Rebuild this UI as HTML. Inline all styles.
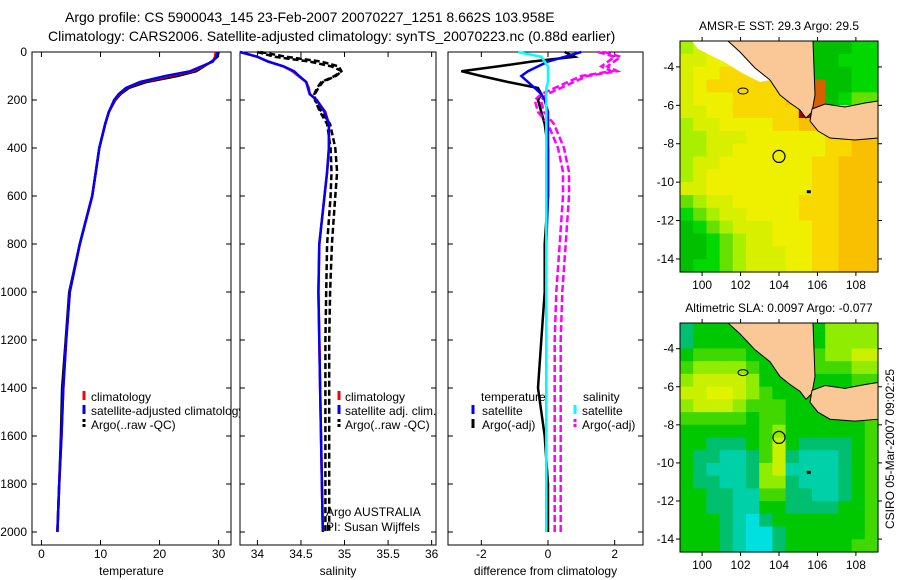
<!DOCTYPE html>
<html><head><meta charset="utf-8">
<style>
html,body{margin:0;padding:0;background:#fff;}
svg{display:block;font-family:"Liberation Sans",sans-serif;}
text{fill:#000;}
</style></head>
<body>
<svg id="fig" width="900" height="580" viewBox="0 0 900 580">
<text x="65" y="22" font-size="14">Argo profile: CS 5900043_145 23-Feb-2007 20070227_1251 8.662S 103.958E</text>
<text x="48" y="41" font-size="14">Climatology: CARS2006. Satellite-adjusted climatology: synTS_20070223.nc (0.88d earlier)</text>
<g id="g"></g>
</svg>
<script>
// ---- profile data ----
const depths   = [0,20,40,60,80,100,125,150,175,200,250,300,400,500,600,800,1000,1200,1400,1600,1800,2000];
const tempClim = [29.5,29.4,29.0,27.3,25.6,21.7,17.0,14.4,13.2,12.4,11.4,10.8,9.8,9.2,8.6,6.5,4.8,4.2,3.7,3.4,3.0,2.7];
const tempSat  = [29.8,29.6,29.0,27.1,25.2,21.0,16.7,14.3,13.1,12.3,11.4,10.8,9.8,9.2,8.6,6.5,4.8,4.2,3.7,3.4,3.0,2.7];
const tempArgo = [30.0,29.8,28.8,27.5,26.2,23.0,17.8,14.8,13.4,12.5,11.4,10.8,9.8,9.2,8.6,6.5,4.7,4.1,3.5,3.3,3.0,2.7];
const salClim  = [33.8,34.0,34.13,34.3,34.4,34.47,34.56,34.59,34.6,34.68,34.78,34.82,34.82,34.8,34.77,34.71,34.7,34.71,34.72,34.73,34.74,34.75];
const salSat   = [33.8,34.0,34.12,34.3,34.42,34.48,34.56,34.58,34.6,34.68,34.77,34.82,34.82,34.8,34.77,34.71,34.7,34.71,34.72,34.73,34.74,34.75];
const salArgo  = [34.0,34.2,34.6,34.85,34.97,34.9,34.75,34.7,34.66,34.66,34.72,34.8,34.84,34.85,34.84,34.8,34.79,34.78,34.78,34.78,34.78,34.78];
const salArgo2 = [34.0,34.3,34.7,34.9,34.93,34.85,34.7,34.65,34.62,34.63,34.7,34.8,34.86,34.88,34.86,34.82,34.8,34.79,34.79,34.79,34.79,34.79];
const dTempSat = [1.0,0.5,0.0,-0.3,-0.6,-0.8,-0.6,-0.4,-0.2,-0.1,0,0,0,0,0,-0.05,-0.05,-0.05,-0.05,-0.05,-0.05,-0.05];
const dTempArgo= [0.5,0.8,-0.5,-1.5,-2.6,-2.0,-1.2,-0.3,-0.2,-0.3,-0.2,-0.1,0,0,0,-0.1,-0.1,-0.2,-0.3,-0.1,0,0];
const dSalSat  = [-0.9,-0.2,-0.1,0,0,0,0,-0.05,-0.05,-0.05,-0.05,-0.05,-0.05,-0.05,-0.05,-0.05,-0.05,-0.05,-0.05,-0.05,-0.05,-0.05];
const dSalArgo = [1.5,2.0,1.8,1.6,1.9,1.0,0.6,0.2,-0.2,-0.4,-0.3,0,0.3,0.45,0.45,0.35,0.25,0.2,0.2,0.2,0.2,0.2];
const depthTicks = [0,200,400,600,800,1000,1200,1400,1600,1800,2000];
const tempTicks = [0,10,20,30];
const salTicks = [34,34.5,35,35.5,36];
const diffTicks = [-2,0,2];
// ---- map data (colour level per cell, rows north->south) ----
const sstGrid = ["344444333300011","445555533300111","455666655500011","456666666780011","455566667880122","445566666985555","344555566777777","334445555556677","334455555556677","344555555566777","345555555566777","445555555566777","234455555666777","123445555666777","012344455566777","001234455566777","001234445566777","011234445566777"];
const slaGrid = ["233333333335555","233333333335555","344443333345566","455554333344455","566665333333344","667765433333334","566654443333334","444443443333334","333333453333334","332223463222234","322112462111234","321112561111234","322112552111234","332211442211234","332211332222334","333210233333334","333210023333334","333210023333344"];
const lonTicks = [100,102,104,106,108];
const latTicks = [-4,-6,-8,-10,-12,-14];

const NS="http://www.w3.org/2000/svg";
const G=document.getElementById('g');
function mk(tag,attrs,parent){const e=document.createElementNS(NS,tag);for(const k in attrs)e.setAttribute(k,attrs[k]);(parent||G).appendChild(e);return e;}
const yTop=52, yPerM=0.24;
function yD(d){return yTop+d*yPerM;}
const BOT=545;

function panel(x0,x1,xmin,xmax,ticks,label,name,showY){
  const sx=v=>x0+(v-xmin)/(xmax-xmin)*(x1-x0);
  const b=mk('rect',{x:x0,y:yTop,width:x1-x0,height:BOT-yTop,fill:'#fff',stroke:'#000','stroke-width':1});
  
  
  ticks.forEach(t=>{const x=sx(t);
    mk('line',{x1:x,x2:x,y1:yTop,y2:yTop+5,stroke:'#000'});
    mk('line',{x1:x,x2:x,y1:BOT,y2:BOT-5,stroke:'#000'});
    const tx=mk('text',{x:x,y:558,'font-size':12,'text-anchor':'middle'});tx.textContent=String(t);
    
    
  });
  depthTicks.forEach(d=>{const y=yD(d);
    mk('line',{x1:x0,x2:x0+5,y1:y,y2:y,stroke:'#000'});
    mk('line',{x1:x1,x2:x1-5,y1:y,y2:y,stroke:'#000'});
    if(showY){const t=mk('text',{x:x0-5,y:y+4,'font-size':12,'text-anchor':'end'});t.textContent=String(d);
      
      }
  });
  const l=mk('text',{x:(x0+x1)/2,y:575,'font-size':12,'text-anchor':'middle'});l.textContent=label;
  
  
  return sx;
}
function line(sx,vals,color,name,dash,off){
  const pts=vals.map((v,i)=>(sx(v)+(off||0)).toFixed(1)+','+yD(depths[i]).toFixed(1)).join(' ');
  const p=mk('polyline',{points:pts,fill:'none',stroke:color,'stroke-width':2.5});
  if(dash)p.setAttribute('stroke-dasharray',dash);
  
  
}
function txt(x,y,s,name,size,anchor){const t=mk('text',{x:x,y:y,'font-size':size||12});if(anchor)t.setAttribute('text-anchor',anchor);t.textContent=s;
  
  return t;}
function mark(x,y,c,name,dash){const l=mk('line',{x1:x,x2:x,y1:y-10,y2:y-1,stroke:c,'stroke-width':3});if(dash)l.setAttribute('stroke-dasharray',dash);
  
  }

// panel 1 temperature
const sxT=panel(32,231,-1.6,32.1,tempTicks,'temperature','temperature-panel',true);
line(sxT,tempArgo,'#000','temperature-argo-line');
line(sxT,tempClim,'#f00','temperature-climatology-line');
line(sxT,tempSat,'#00f','temperature-satellite-line');
mark(84,401,'#f00','legend-climatology-marker');txt(91,401,'climatology','legend-climatology');
mark(84,415,'#00f','legend-satellite-marker');txt(91,415,'satellite-adjusted climatology','legend-satellite');
mark(84,429,'#000','legend-argo-marker','3,2');txt(91,429,'Argo(..raw -QC)','legend-argo');

// panel 2 salinity
const sxS=panel(240,436,33.8,36.05,salTicks,'salinity','salinity-panel',false);
line(sxS,salArgo,'#000','salinity-argo-raw-line','6,3');
line(sxS,salArgo2,'#000','salinity-argo-qc-line','6,3',3);
line(sxS,salClim,'#f00','salinity-climatology-line');
line(sxS,salSat,'#00f','salinity-satellite-line');
mark(339,401,'#f00','legend2-climatology-marker');txt(345,401,'climatology','legend2-climatology');
mark(339,415,'#00f','legend2-satellite-marker');txt(345,415,'satellite adj. clim.','legend2-satellite');
mark(339,429,'#000','legend2-argo-marker','3,2');txt(345,429,'Argo(..raw -QC)','legend2-argo');
txt(326,516,'Argo AUSTRALIA','float-agency-label');
txt(326,531,'PI: Susan Wijffels','pi-label');

// panel 3 differences
const sxD=panel(448,643,-3.0,2.85,diffTicks,'difference from climatology','difference-panel',false);
line(sxD,dTempArgo,'#000','diff-temp-argo-line');
line(sxD,dSalArgo,'#f0f','diff-sal-argo-line','7,3');
line(sxD,dSalArgo,'#f0f','diff-sal-argo-line-2','7,3',6);
line(sxD,dTempSat,'#00f','diff-temp-satellite-line');
line(sxD,dSalSat,'#0ff','diff-sal-satellite-line');
txt(481,401,'temperature','legend3-temperature-header');
txt(583,401,'salinity','legend3-salinity-header');
mark(473,415,'#00f','legend3-temp-satellite-marker');txt(482,415,'satellite','legend3-temp-satellite');
mark(473,429,'#000','legend3-temp-argo-marker');txt(482,429,'Argo(-adj)','legend3-temp-argo');
mark(575,415,'#0ff','legend3-sal-satellite-marker');txt(582,415,'satellite','legend3-sal-satellite');
mark(575,429,'#f0f','legend3-sal-argo-marker','3,2');txt(582,429,'Argo(-adj)','legend3-sal-argo');

// maps
const sstCols=['#00c000','#00d800','#66e000','#a8f000','#d8f000','#eef000','#f8d800','#f8c000','#d86000','#a00000'];
const slaCols=['#00e0e0','#00d0a8','#00c070','#00c800','#40d800','#90ec00','#c8f000','#e0f400'];
function map(x0,y0,w,h,grid,cols,title,name,xlabels){
  const lonMin=98.85,lonMax=109.15,latMax=-2.65,latMin=-14.68;
  const sx=v=>x0+(v-lonMin)/(lonMax-lonMin)*w, sy=v=>y0+(latMax-v)/(latMax-latMin)*h;
  const g=mk('g',{});
  
  
  const nr=grid.length,nc=grid[0].length,cw=w/nc,ch=h/nr;
  grid.forEach((row,r)=>{for(let c=0;c<nc;c++){
    const cell=mk('rect',{x:(x0+c*cw).toFixed(2),y:(y0+r*ch).toFixed(2),width:(cw+0.6).toFixed(2),height:(ch+0.6).toFixed(2),fill:cols[+row[c]]},g);
    
    
  }});
  const L=(pts)=>pts.map(p=>(x0+p[0]*w/198).toFixed(1)+','+(y0+p[1]*h/231).toFixed(1)).join(' ');
  if(name==='sst-map'){const nan=mk('polygon',{points:L([[12,0],[48,0],[60,11],[75,27],[90,39],[80,41],[62,32],[46,22],[30,14],[18,8]]),fill:'#fff'},g);
    }
  const s=mk('polygon',{points:L([[48,0],[60,11],[75,27],[90,39],[100,54],[110,62],[120,69],[126,77],[132,71],[135,54],[133,0]]),fill:'#f9c896',stroke:'#000','stroke-width':1},g);
  
  const j=mk('polygon',{points:L([[132,68],[145,63],[165,66],[185,62],[198,60],[198,97],[175,99],[150,97],[138,90],[130,80]]),fill:'#f9c896',stroke:'#000','stroke-width':1},g);
  
  const isl=mk('ellipse',{cx:x0+63*w/198,cy:y0+50*h/231,rx:5,ry:3,fill:'none',stroke:'#000'},g);
  
  const pos=mk('circle',{cx:sx(104),cy:sy(-8.66),r:6,fill:'none',stroke:'#000','stroke-width':1.2},g);
  
  mk('rect',{x:sx(105.55)-2,y:sy(-10.5)-1.5,width:4,height:3,fill:'#000'},g);
  const b=mk('rect',{x:x0,y:y0,width:w,height:h,fill:'none',stroke:'#000'},g);
  
  lonTicks.forEach(t=>{const x=sx(t);mk('line',{x1:x,x2:x,y1:y0-4,y2:y0,stroke:'#000'},g);mk('line',{x1:x,x2:x,y1:y0+h,y2:y0+h+4,stroke:'#000'},g);
    if(xlabels){const tt=txt(x,y0+h+17,String(t),name+'-lon-label',12,'middle');}});
  latTicks.forEach(t=>{const y=sy(t);mk('line',{x1:x0-4,x2:x0,y1:y,y2:y,stroke:'#000'},g);mk('line',{x1:x0+w,x2:x0+w+4,y1:y,y2:y,stroke:'#000'},g);
    txt(x0-6,y+4,String(t),name+'-lat-label',12,'end');});
  txt(x0+w/2,y0-11,title,name+'-title',12,'middle');
}
map(680,41,198,231,sstGrid,sstCols,'AMSR-E SST: 29.3 Argo: 29.5','sst-map',true);
map(680,323,198,229,slaGrid,slaCols,'Altimetric SLA: 0.0097 Argo: -0.077','sla-map',true);
const r=txt(0,0,'CSIRO 05-Mar-2007 09:02:25','timestamp-label',12,'middle');
r.setAttribute('transform','translate(894,449) rotate(-90)');
</script>
</body></html>
